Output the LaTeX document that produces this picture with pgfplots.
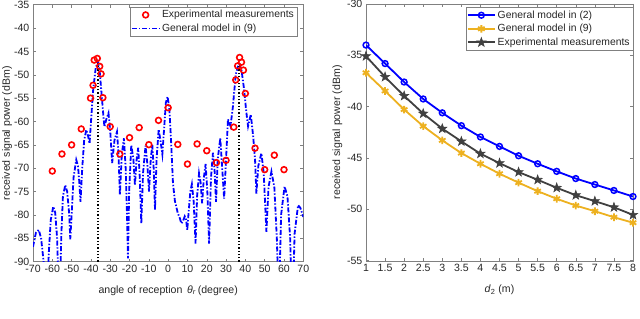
\documentclass[border=0pt]{standalone}
\usepackage{pgfplots}
\pgfplotsset{compat=1.18}
\usepackage{fontspec}
\setmainfont{Liberation Sans}
\definecolor{mblue}{rgb}{0,0,1}
\definecolor{mred}{rgb}{1,0,0}
\definecolor{morange}{rgb}{0.929,0.694,0.125}
\definecolor{mgray}{rgb}{0.25,0.25,0.25}
\pgfdeclareplotmark{pentagram}{%
  \pgfpathmoveto{\pgfpointpolar{90}{\pgfplotmarksize}}%
  \pgfpathlineto{\pgfpointpolar{126}{0.40\pgfplotmarksize}}%
  \pgfpathlineto{\pgfpointpolar{162}{\pgfplotmarksize}}%
  \pgfpathlineto{\pgfpointpolar{198}{0.40\pgfplotmarksize}}%
  \pgfpathlineto{\pgfpointpolar{234}{\pgfplotmarksize}}%
  \pgfpathlineto{\pgfpointpolar{270}{0.40\pgfplotmarksize}}%
  \pgfpathlineto{\pgfpointpolar{306}{\pgfplotmarksize}}%
  \pgfpathlineto{\pgfpointpolar{342}{0.40\pgfplotmarksize}}%
  \pgfpathlineto{\pgfpointpolar{18}{\pgfplotmarksize}}%
  \pgfpathlineto{\pgfpointpolar{54}{0.40\pgfplotmarksize}}%
  \pgfpathclose\pgfusepathqfillstroke}
\pgfplotsset{
  mstyle/.style={
    scale only axis,
    axis line style={black!50},
    tick style={black!50, line width=0.5bp},
    tick align=inside,
    major tick length=3bp,
    ticklabel style={font=\fontsize{10.6}{12}\selectfont, text=black!85},
    label style={font=\fontsize{10.6}{12}\selectfont, text=black!85},
    /pgf/number format/assume math mode=true,
    legend cell align=left,
    legend style={draw=black!50, font=\fontsize{10.4}{12}\selectfont, inner sep=1.2bp, row sep=0.5bp, text=black!85},
    legend image code/.code={\draw[mark repeat=2,mark phase=2,##1] plot coordinates {(0bp,0bp) (13.5bp,0bp) (27bp,0bp)};},
  }
}
\begin{document}
\fontsize{10.6}{12}\selectfont
\begin{tikzpicture}
\useasboundingbox (0,0) rectangle (640bp,319bp);
\begin{axis}[mstyle,
  at={(33bp,57.3bp)}, anchor=south west,
  width=270.3bp, height=257bp,
  xmin=-70, xmax=70, ymin=-90, ymax=-35,
  xtick={-70,-60,...,70}, ytick={-90,-85,...,-35},
  xlabel={angle of reception \,\textit{θ}\textsubscript{\textit{r}}\,(degree)},
  ylabel={received signal power (dBm)},
  xlabel style={at={(axis description cs:0.5,-0.112)}, anchor=center},
  ylabel style={at={(axis description cs:-0.096,0.5)}, anchor=center},
  legend style={at={(1,1)}, anchor=north east, xshift=-6bp, yshift=-2.3bp},
]
\addplot[mred, only marks, mark=o, mark size=2.9bp, line width=1.6bp] coordinates {
(-60,-70.6) (-55,-66.95) (-50,-65.0) (-45,-61.6) (-40.2,-55.0) (-38.9,-52.25) (-38.3,-46.85) (-36.7,-46.5) (-35.45,-48.2) (-34.75,-49.8) (-33.8,-54.9) (-30,-61.1) (-25,-66.95) (-20,-63.45) (-15,-61.3) (-10,-64.95) (-5,-59.75) (0,-57.05) (5,-64.9) (10,-69.1) (15,-64.8) (20,-66.25) (25,-68.8) (30,-68.3) (34,-61.2) (35,-51.1) (36,-48.1) (37,-46.3) (38,-47.3) (39,-49.0) (40,-54.0) (45,-65.7) (50,-70.3) (55,-67.2) (60,-70.3)
};
\addlegendentry{Experimental measurements}
\addplot[mblue, line width=1.8bp, dash pattern=on 5bp off 1.8bp on 1.4bp off 1.8bp] coordinates {
(-70,-86.8) (-68.5,-83.8) (-67,-83.2) (-65.8,-85) (-64.5,-90) (-64,-95) (-62.5,-95) (-61.8,-88) (-60.8,-81) (-59.5,-78.2) (-58.5,-79.5) (-57.5,-85) (-56.8,-95) (-56,-95) (-55.3,-84) (-54.5,-76) (-53.3,-73.6) (-52.3,-75) (-51.2,-80) (-50.7,-85.2) (-50,-80) (-49,-72) (-47.6,-68.2) (-46.7,-69.5) (-46,-73) (-45.4,-77.2) (-44.5,-70) (-43.5,-64) (-42.4,-61.8) (-41.5,-63) (-40.7,-64.7) (-39.8,-59) (-38.8,-53) (-37.5,-48.5) (-36.4,-47.3) (-35.5,-49) (-34.5,-54) (-33.5,-59) (-33,-61.1) (-32,-59.5) (-30.9,-58.2) (-30,-62) (-29,-68.9) (-27.8,-64) (-26.5,-62.2) (-25.7,-67) (-25,-75.7) (-24,-67) (-22.9,-63.6) (-22,-70) (-21.3,-80) (-20.8,-89.3) (-20.2,-75) (-19.1,-65) (-18,-68) (-17.2,-73.6) (-16.3,-68) (-15.5,-65.6) (-14.7,-72) (-13.9,-81.8) (-13,-71) (-11.7,-65.2) (-10.8,-69) (-9.9,-75) (-9,-68) (-8.2,-65) (-7.5,-70) (-6.8,-78.9) (-6,-68) (-4.9,-61.7) (-4,-64) (-3,-67) (-2,-61) (-1.2,-56) (-0.3,-54.7) (0.6,-57) (1.5,-64) (2.5,-73.2) (3.5,-77) (5,-79.6) (6,-80.6) (6.8,-81.8) (7.5,-81.5) (8.6,-80.3) (9.3,-81) (9.9,-83.2) (10.5,-80) (11.5,-75) (12.3,-73.4) (13.2,-77) (14.2,-86.1) (15,-76) (16,-71.1) (16.8,-73) (17.6,-77.5) (18.5,-72) (19.4,-69.1) (20.3,-75) (21.2,-86.1) (22.2,-72) (23.2,-66.7) (24,-70) (24.8,-77.2) (25.7,-68) (27,-63.6) (28,-70) (29,-76.5) (30,-68) (31,-59.5) (32.3,-61) (33.5,-57) (35,-50) (36.7,-47.3) (38,-49) (39.3,-53) (40.5,-58) (41.4,-61) (42.8,-58.5) (44,-63) (45,-68) (45.7,-75.4) (46.7,-69.5) (48.3,-66.8) (49.5,-71) (50.9,-83.6) (52,-74) (53.5,-70.7) (55,-74) (56.3,-85) (57,-95) (57.6,-95) (58.5,-80) (60.3,-73.9) (61.8,-76) (63.2,-85) (63.8,-95) (64.8,-95) (65.5,-84) (67.3,-77.9) (68.5,-78.5) (70,-80.4)
};
\addlegendentry{General model in (9)}
\addplot[black, line width=1.3bp, dotted, forget plot] coordinates {(-36.3,-90) (-36.3,-47.5)};
\addplot[black, line width=1.3bp, dotted, forget plot] coordinates {(36.7,-90) (36.7,-47.5)};
\node[font=\fontsize{10.6}{12}\selectfont, text=black!85] at (axis description cs:0.5,-0.196) {(a)};
\end{axis}
\begin{axis}[mstyle,
  at={(366bp,58.3bp)}, anchor=south west,
  width=267bp, height=256.7bp,
  xmin=1, xmax=8, ymin=-55, ymax=-30,
  xtick={1,1.5,...,8}, ytick={-55,-50,...,-30},
  xlabel={\textit{d}\textsubscript{2} (m)},
  ylabel={received signal power (dBm)},
  xlabel style={at={(axis description cs:0.5,-0.114)}, anchor=center},
  ylabel style={at={(axis description cs:-0.1067,0.5)}, anchor=center},
  legend style={at={(1,1)}, anchor=north east, xshift=0bp, yshift=-3.3bp},
]
\addplot[mblue, line width=1.8bp, mark=o, mark size=2.9bp, mark options={line width=1.5bp}] coordinates {
(1,-34.0) (1.5,-35.8) (2,-37.6) (2.5,-39.25) (3,-40.6) (3.5,-41.85) (4,-42.95) (4.5,-43.87) (5,-44.78) (5.5,-45.56) (6,-46.3) (6.5,-47.0) (7,-47.58) (7.5,-48.16) (8,-48.75)
};
\addlegendentry{General model in (2)}
\addplot[morange, line width=1.8bp, mark=asterisk, mark size=3.8bp, mark options={line width=1.8bp}] coordinates {
(1,-36.7) (1.5,-38.47) (2,-40.28) (2.5,-41.9) (3,-43.28) (3.5,-44.52) (4,-45.56) (4.5,-46.53) (5,-47.4) (5.5,-48.23) (6,-48.97) (6.5,-49.63) (7,-50.18) (7.5,-50.77) (8,-51.3)
};
\addlegendentry{General model in (9)}
\addplot[mgray, line width=1.8bp, mark=pentagram, mark size=4.8bp, mark options={fill=mgray, line width=0.6bp}] coordinates {
(1,-35.08) (1.5,-37.1) (2,-38.95) (2.5,-40.67) (3,-42.14) (3.5,-43.38) (4,-44.58) (4.5,-45.5) (5,-46.37) (5.5,-47.12) (6,-47.9) (6.5,-48.62) (7,-49.2) (7.5,-49.8) (8,-50.54)
};
\addlegendentry{Experimental measurements}
\node[font=\fontsize{10.6}{12}\selectfont, text=black!85] at (axis description cs:0.5,-0.2) {(b)};
\end{axis}
\end{tikzpicture}
\end{document}
